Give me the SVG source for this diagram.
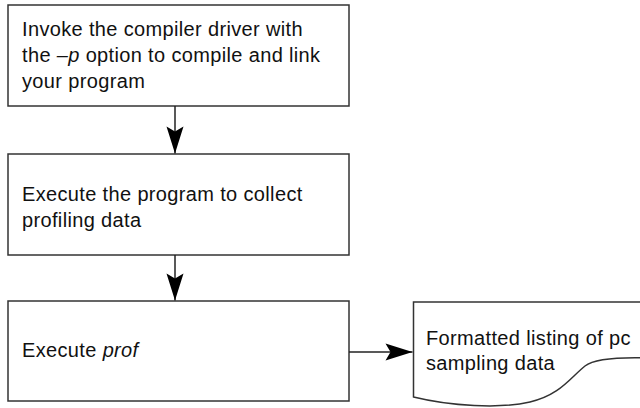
<svg xmlns="http://www.w3.org/2000/svg" width="640" height="408" viewBox="0 0 640 408">
<style>
.box{fill:#fff;stroke:#333;stroke-width:1.5}
.t{font-family:"Liberation Sans",Arial,sans-serif;font-size:20px;letter-spacing:0.35px;fill:#111}
.conn{stroke:#222;stroke-width:1.5;fill:none}
</style>
<defs>
<marker id="ah" markerUnits="userSpaceOnUse" markerWidth="30" markerHeight="20" viewBox="-28 -10 30 20" refX="0" refY="0" orient="auto">
<path d="M0,0 L-27,-8.5 L-22,0 L-27,8.5 Z" fill="#000"/>
</marker>
</defs>
<g id="n1">
<rect class="box" x="8" y="5" width="341" height="101"/>
<text class="t" x="22" y="36">Invoke the compiler driver with</text>
<text class="t" x="22" y="62">the <tspan font-style="italic">–p</tspan> option to compile and link</text>
<text class="t" x="22" y="88">your program</text>
</g>
<g id="n2">
<rect class="box" x="8" y="154" width="341" height="101"/>
<text class="t" x="22" y="201">Execute the program to collect</text>
<text class="t" x="22" y="227">profiling data</text>
</g>
<g id="n3">
<rect class="box" x="8" y="301" width="341" height="100"/>
<text class="t" x="22" y="357">Execute <tspan font-style="italic">prof</tspan></text>
</g>
<g id="n4">
<path class="box" d="M413.5,302 H650 V358 C620,357 595,358 585,366 C570,378 560,395 530,402 C500,409 450,406 413.5,397 Z"/>
<text class="t" x="426" y="345">Formatted listing of pc</text>
<text class="t" x="426" y="370">sampling data</text>
</g>
<g id="connectors">
<line class="conn" x1="175" y1="106" x2="175" y2="153.5" marker-end="url(#ah)"/>
<line class="conn" x1="175" y1="255" x2="175" y2="300.5" marker-end="url(#ah)"/>
<line class="conn" x1="349" y1="352" x2="412.5" y2="352" marker-end="url(#ah)"/>
</g>
</svg>
